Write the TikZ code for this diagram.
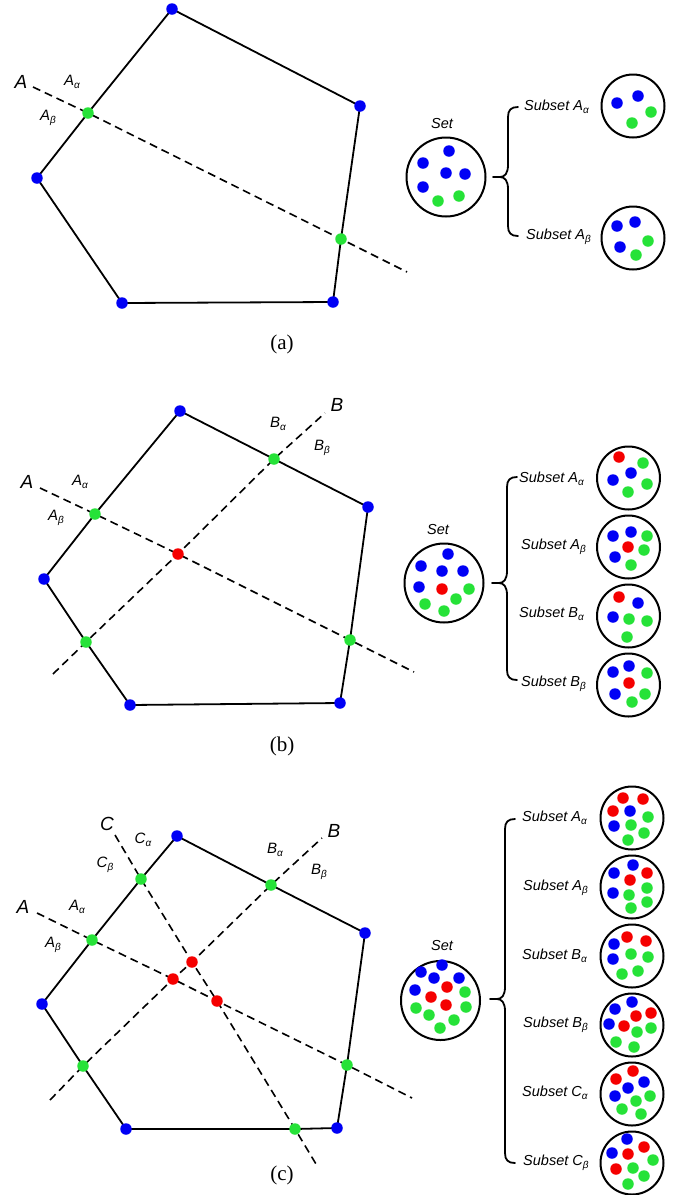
\documentclass[tikz,border=0pt]{standalone}
\usepackage{fontspec}
\setmainfont{Liberation Serif}
\newfontfamily\lab{Liberation Sans}
\definecolor{cb}{RGB}{0,0,245}
\definecolor{cg}{RGB}{38,226,56}
\definecolor{cr}{RGB}{245,0,0}
\pgfdeclarelayer{bg}
\pgfsetlayers{bg,main}
\newcommand{\sbs}[1]{\raisebox{-3pt}{\fontsize{10}{10}\selectfont #1}}
\newcommand{\putdots}[2]{\foreach \x/\y/\c [count=\i] in {#2} {\node[dot, fill=\c] (#1-\i) at (\x,\y) {};}}
\newcommand{\mybrace}[4]{%
  \draw[bracel] ({#1+10},#2) .. controls ({#1+3},#2) and (#1,{#2+3}) .. (#1,{#2+10})
    -- (#1,{#3-12}) .. controls (#1,{#3-4}) and ({#1-3},#3) .. ({#1-8},#3) -- ({#1-15},#3)
    -- ({#1-8},#3) .. controls ({#1-3},#3) and (#1,{#3+4}) .. (#1,{#3+12})
    -- (#1,{#4-10}) .. controls (#1,{#4-3}) and ({#1+3},#4) .. ({#1+10},#4);}
\tikzset{
  dot/.style={circle, inner sep=0pt, minimum size=11.5pt, draw=none},
  bd/.style={dot, fill=cb}, gd/.style={dot, fill=cg}, rd/.style={dot, fill=cr},
  edge/.style={line width=1.8pt, black},
  cut/.style={line width=1.6pt, dash pattern=on 8pt off 5pt},
  ring/.style={circle, draw, line width=2pt, inner sep=0pt},
  setring/.style={ring, minimum size=79pt},
  subring/.style={ring, minimum size=63pt},
  bigl/.style={font=\lab\itshape\fontsize{19}{19}\selectfont, inner sep=0pt},
  smalll/.style={font=\lab\itshape\fontsize{15}{15}\selectfont, inner sep=0pt},
  setl/.style={font=\lab\itshape\fontsize{14.5}{14.5}\selectfont, inner sep=0pt},
  subl/.style={setl, anchor=west},
  capl/.style={font=\fontsize{21}{21}\selectfont, inner sep=0pt},
  bracel/.style={line width=1.8pt, line join=round, line cap=round},
}
\begin{document}
\begin{tikzpicture}[x=1pt,y=-1pt]
\useasboundingbox (0,0) rectangle (677,1195);

% ================= (a) =================
\node[bd] (a1) at (172,9) {};
\node[bd] (a2) at (360,106) {};
\node[bd] (a3) at (333,302) {};
\node[bd] (a4) at (122,303) {};
\node[bd] (a5) at (37,178) {};
\node[gd] (ag1) at (88,113) {};
\node[gd] (ag2) at (341,239) {};
\coordinate (aAs) at (33,87);
\coordinate (aAe) at (407,272);
\begin{pgfonlayer}{bg}
\draw[edge] (a1.center) -- (a2.center) -- (ag2.center) -- (a3.center) -- (a4.center) -- (a5.center) -- (ag1.center) -- cycle;
\draw[cut] (aAs) -- (ag1.center) -- (ag2.center) -- (aAe);
\end{pgfonlayer}
\node[bigl] (aA) at (21,82) {A};
\node[smalll] (aAa) at (72,82) {A\sbs{α}};
\node[smalll] (aAb) at (48,118) {A\sbs{β}};

\node[setl] (aset) at (442,124) {Set};
\node[setring] (asetc) at (446,177) {};
\putdots{asd}{449/151/cb,423/163/cb,446/173/cb,465/174/cb,423/187/cb,438/201/cg,459/196/cg}
\mybrace{508}{107}{177}{236}
\node[subl] (aSa) at (524,107) {Subset A\sbs{α}};
\node[subl] (aSb) at (526,237) {Subset A\sbs{β}};
\node[subring] (aca) at (633,106) {};
\node[subring] (acb) at (633,238) {};
\putdots{aad}{617/103/cb,638/96/cb,651/112/cg,632/123/cg}
\putdots{abd}{617/226/cb,635/222/cb,620/247/cb,648/241/cg,636/255/cg}
\node[capl] (capa) at (282,344) {(a)};

% ================= (b) =================
\node[bd] (b1) at (180,411) {};
\node[bd] (b2) at (368,507) {};
\node[bd] (b3) at (340,703) {};
\node[bd] (b4) at (130,705) {};
\node[bd] (b5) at (44,579) {};
\node[gd] (bgAL) at (95,514) {};
\node[gd] (bgBT) at (274,459) {};
\node[gd] (bgBL) at (86,642) {};
\node[gd] (bgAR) at (350,640) {};
\node[rd] (bR) at (178,554) {};
\coordinate (bAs) at (40,488);
\coordinate (bAe) at (414,672);
\coordinate (bBs) at (53,674);
\coordinate (bBe) at (325,413);
\begin{pgfonlayer}{bg}
\draw[edge] (b1.center) -- (bgBT.center) -- (b2.center) -- (bgAR.center) -- (b3.center) -- (b4.center) -- (bgBL.center) -- (b5.center) -- (bgAL.center) -- cycle;
\draw[cut] (bAs) -- (bgAL.center) -- (bR.center) -- (bgAR.center) -- (bAe);
\draw[cut] (bBs) -- (bgBL.center) -- (bR.center) -- (bgBT.center) -- (bBe);
\end{pgfonlayer}
\node[bigl] (bA) at (27,482) {A};
\node[smalll] (bAa) at (80,482) {A\sbs{α}};
\node[smalll] (bAb) at (56,518) {A\sbs{β}};
\node[bigl] (bB) at (337,405) {B};
\node[smalll] (bBa) at (278,424) {B\sbs{α}};
\node[smalll] (bBb) at (322,448) {B\sbs{β}};

\node[setl] (bset) at (438,529) {Set};
\node[setring] (bsetc) at (444,583) {};
\putdots{bsd}{448/554/cb,421/566/cb,442/571/cb,463/571/cb,419/587/cb,442/589/cr,469/589/cg,456/599/cg,425/604/cg,444/611/cg}
\mybrace{507}{477}{583}{680}
\node[subl] (bSa) at (519,479) {Subset A\sbs{α}};
\node[subl] (bSb) at (521,547) {Subset A\sbs{β}};
\node[subl] (bSc) at (519,614) {Subset B\sbs{α}};
\node[subl] (bSd) at (521,684) {Subset B\sbs{β}};
\node[subring] (bca) at (628.5,478) {};
\node[subring] (bcb) at (628.5,547) {};
\node[subring] (bcc) at (628.5,616) {};
\node[subring] (bcd) at (628.5,685) {};
\putdots{bad}{619/457/cr,643/463/cg,631/473/cb,613/480/cb,647/484/cg,628/492/cg}
\putdots{bbd}{613/536/cb,631/532/cb,647/536/cg,628/547/cr,644/550/cg,615/557/cb,631/565/cg}
\putdots{bcdd}{619/597/cr,638/603/cb,613/617/cb,629/619/cg,647/621/cg,627/637/cg}
\putdots{bdd}{613/672/cb,629/666/cb,647/673/cg,629/683/cr,615/694/cb,645/694/cg,632/702/cg}
\node[capl] (capb) at (282,746) {(b)};

% ================= (c) =================
\node[bd] (c1) at (177,836) {};
\node[bd] (c2) at (365,933) {};
\node[bd] (c3) at (337,1128) {};
\node[bd] (c4) at (126,1129) {};
\node[bd] (c5) at (42,1004) {};
\node[gd] (cgCL) at (141,879) {};
\node[gd] (cgAL) at (92,940) {};
\node[gd] (cgBT) at (271,885) {};
\node[gd] (cgBL) at (83,1066) {};
\node[gd] (cgAR) at (347,1065) {};
\node[gd] (cgCB) at (295,1129) {};
\node[rd] (cR1) at (192,962) {};
\node[rd] (cR2) at (173,979) {};
\node[rd] (cR3) at (217,1001) {};
\coordinate (cAs) at (37,913);
\coordinate (cAe) at (412,1098);
\coordinate (cBs) at (50,1100);
\coordinate (cBe) at (322,838);
\coordinate (cCs) at (115,835);
\coordinate (cCe) at (316,1164);
\begin{pgfonlayer}{bg}
\draw[edge] (c1.center) -- (cgBT.center) -- (c2.center) -- (cgAR.center) -- (c3.center) -- (cgCB.center) -- (c4.center) -- (cgBL.center) -- (c5.center) -- (cgAL.center) -- (cgCL.center) -- cycle;
\draw[cut] (cAs) -- (cgAL.center) -- (cR2.center) -- (cR3.center) -- (cgAR.center) -- (cAe);
\draw[cut] (cBs) -- (cgBL.center) -- (cR2.center) -- (cR1.center) -- (cgBT.center) -- (cBe);
\draw[cut] (cCs) -- (cgCL.center) -- (cR1.center) -- (cR3.center) -- (cgCB.center) -- (cCe);
\end{pgfonlayer}
\node[bigl] (cC) at (107,824) {C};
\node[smalll] (cCa) at (143,840) {C\sbs{α}};
\node[smalll] (cCb) at (105,865) {C\sbs{β}};
\node[bigl] (cA) at (23,907) {A};
\node[smalll] (cAa) at (77,907) {A\sbs{α}};
\node[smalll] (cAb) at (53,945) {A\sbs{β}};
\node[bigl] (cB) at (334,831) {B};
\node[smalll] (cBa) at (275,850) {B\sbs{α}};
\node[smalll] (cBb) at (319,872) {B\sbs{β}};

\node[setl] (cset) at (442,945) {Set};
\node[setring] (csetc) at (440.5,1000.5) {};
\putdots{csd}{442/965/cb,421/972/cb,434/978/cb,459/978/cb,415/990/cb,447/987/cr,465/992/cg,431/997/cr,446/1005/cr,466/1007/cg,416/1008/cg,429/1015/cg,454/1020/cg,440/1028/cg}
\mybrace{505}{819}{999}{1163}
\node[subl] (cSa) at (522,818) {Subset A\sbs{α}};
\node[subl] (cSb) at (523,888) {Subset A\sbs{β}};
\node[subl] (cSc) at (522,956) {Subset B\sbs{α}};
\node[subl] (cSd) at (523,1025) {Subset B\sbs{β}};
\node[subl] (cSe) at (522,1093) {Subset C\sbs{α}};
\node[subl] (cSf) at (523,1163) {Subset C\sbs{β}};
\node[subring] (cca) at (632,818) {};
\node[subring] (ccb) at (632,887) {};
\node[subring] (ccc) at (632,956) {};
\node[subring] (ccd) at (632,1025) {};
\node[subring] (cce) at (632,1094) {};
\node[subring] (ccf) at (632,1163) {};
\putdots{cad}{623/798/cr,643/799/cr,613/811/cr,630/811/cb,648/817/cg,614/826/cb,631/825/cg,644/833/cg,628/840/cg}
\putdots{cbd}{633/865/cb,614/873/cb,647/873/cr,630/880/cr,647/888/cg,613/893/cb,629/895/cg,647/902/cg,631/908/cg}
\putdots{ccdd}{627/937/cr,646/941/cr,614/944/cb,631/954/cg,648/957/cg,613/959/cb,638/971/cg,622/974/cg}
\putdots{cdd}{615/1009/cb,632/1002/cb,636/1016/cr,651/1013/cr,609/1024/cb,624/1026/cr,637/1032/cg,651/1028/cg,616/1042/cg,634/1047/cg}
\putdots{ced}{633/1071/cr,616/1079/cr,644/1082/cb,628/1088/cb,615/1096/cb,636/1101/cg,650/1096/cg,622/1109/cg,641/1114/cg}
\putdots{cfd}{627/1139/cb,612/1153/cb,644/1147/cr,628/1154/cr,653/1160/cg,616/1169/cr,633/1168/cg,644/1176/cg,628/1184/cg}
\node[capl] (capc) at (282,1175) {(c)};
\end{tikzpicture}
\end{document}
